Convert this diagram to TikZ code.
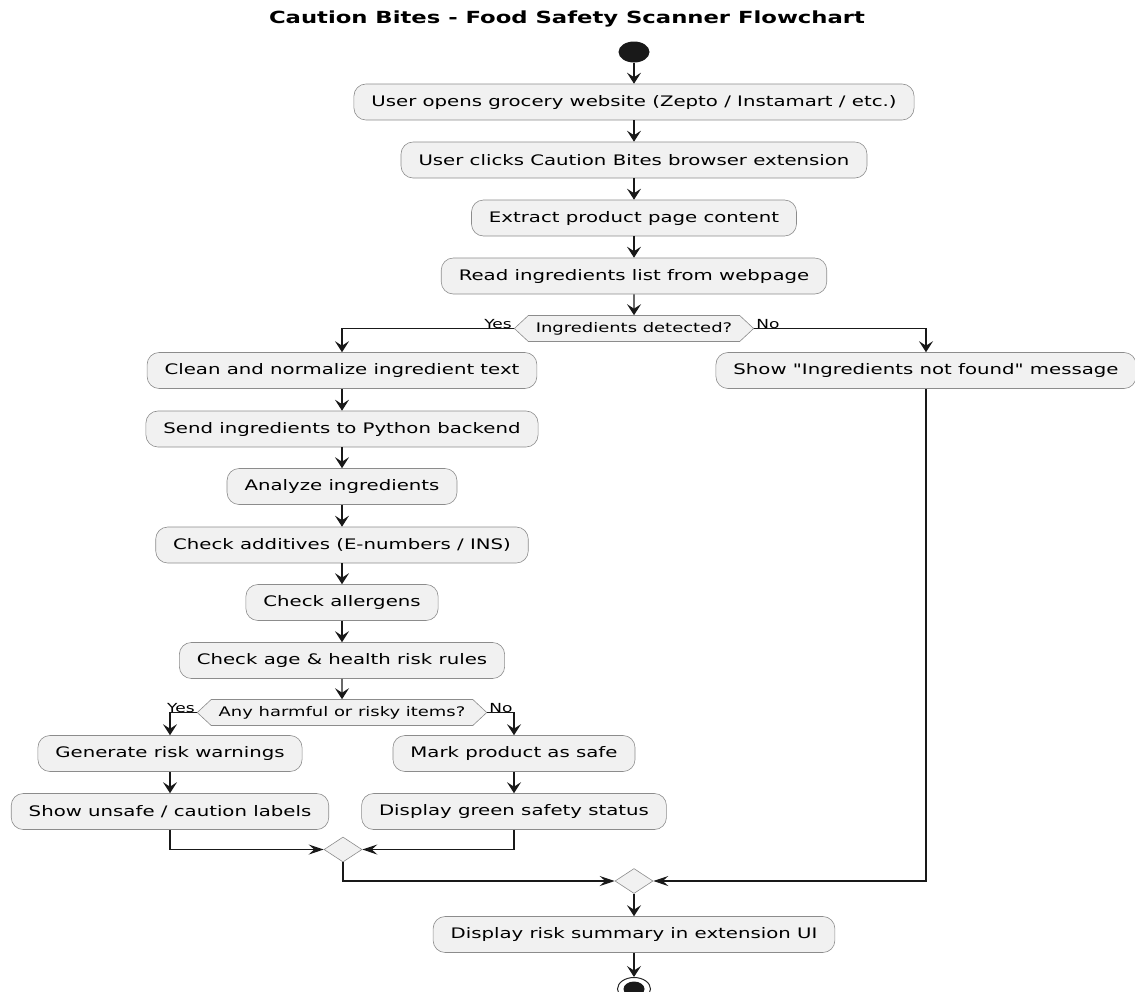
\documentclass[tikz,border=0pt]{standalone}
\usepackage{fontspec}
\setmainfont{DejaVu Sans}[FakeStretch=1.36, Ligatures=TeXOff]
\usetikzlibrary{arrows.meta,shapes.geometric,shapes.symbols}
\definecolor{actfill}{HTML}{F1F1F1}
\definecolor{actline}{HTML}{8C8C8C}
\tikzset{
  activity/.style={draw=actline, line width=0.6pt, fill=actfill, rounded corners=12pt,
    minimum height=36pt, inner xsep=17.5pt, inner ysep=0pt, font=\fontsize{14.5}{17}\selectfont},
  question/.style={shape=signal, signal to=west and east, signal pointer angle=86,
    draw=actline, line width=0.6pt, fill=actfill, minimum height=26pt, inner xsep=7.5pt,
    inner ysep=0pt, font=\fontsize{13.2}{15}\selectfont},
  merge/.style={shape=diamond, draw=actline, line width=0.6pt, fill=actfill,
    minimum width=38pt, minimum height=25pt, inner sep=0pt},
  guard/.style={font=\fontsize{12.5}{14}\selectfont, inner sep=1pt},
  vflow/.style={draw=black!90, line width=1.1pt, -{Stealth[length=11pt,width=14pt,inset=4.5pt]}},
  hflow/.style={draw=black!90, line width=1.1pt, -{Stealth[length=15pt,width=10pt,inset=5.5pt]}},
}
\begin{document}
\begin{tikzpicture}[x=1pt,y=-1pt]
  \useasboundingbox (0,0) rectangle (1135,991);
%%
  % Title
  \node[font=\bfseries\fontsize{16.7}{20}\selectfont] (title) at (567,19) {Caution Bites - Food Safety Scanner Flowchart};
  % Node: start
  \node[shape=ellipse, fill=black!90, minimum width=31pt, minimum height=21pt, inner sep=0pt] (start) at (634,52) {};
  % Node: main column
  \node[activity] (opensite) at (634,102) {User opens grocery website (Zepto / Instamart / etc.)};
  \node[activity] (clickext) at (634,160) {User clicks Caution Bites browser extension};
  \node[activity] (extract) at (634,218) {Extract product page content};
  \node[activity] (readlist) at (634,276) {Read ingredients list from webpage};
  \node[question] (detected) at (634,328.5) {Ingredients detected?};
  % Node: yes branch
  \node[activity] (clean) at (342,370.5) {Clean and normalize ingredient text};
  \node[activity] (sendpy) at (342,429) {Send ingredients to Python backend};
  \node[activity] (analyze) at (342,486.5) {Analyze ingredients};
  \node[activity] (additives) at (342,545) {Check additives (E-numbers / INS)};
  \node[activity] (allergens) at (342,602.5) {Check allergens};
  \node[activity] (agerules) at (342,660.5) {Check age \& health risk rules};
  \node[question] (harmful) at (342,712.5) {Any harmful or risky items?};
  \node[activity] (warnings) at (170,753.5) {Generate risk warnings};
  \node[activity] (unsafe) at (170,811.5) {Show unsafe / caution labels};
  \node[activity] (marksafe) at (514,753.5) {Mark product as safe};
  \node[activity] (greenok) at (514,811.5) {Display green safety status};
  \node[merge] (join1) at (343,849.5) {};
  % Node: no branch
  \node[activity] (notfound) at (926,370.5) {Show "Ingredients not found" message};
  \node[merge] (join2) at (634,881) {};
  \node[activity] (summary) at (634,934.5) {Display risk summary in extension UI};
  % Node: stop
  \node[shape=ellipse, draw=black!85, line width=1pt, minimum width=33pt, minimum height=23pt,
    inner sep=0pt, path picture={\fill[black!90] (path picture bounding box.center) ellipse (10.5pt and 7.5pt);}] (stop) at (634,989) {};
%
  % Edge: start -> ... -> detected
  \draw[vflow] (start) -- (opensite);
  \draw[vflow] (opensite) -- (clickext);
  \draw[vflow] (clickext) -- (extract);
  \draw[vflow] (extract) -- (readlist);
  \draw[vflow] (readlist) -- (detected);
  % Edge: detected -> clean (Yes), detected -> notfound (No)
  \draw[vflow] (detected.west) -| (clean.north);
  \node[guard, anchor=south east] (yes1) at ([xshift=-1pt,yshift=-1pt]detected.west) {Yes};
  \draw[vflow] (detected.east) -| (notfound.north);
  \node[guard, anchor=south west] (no1) at ([xshift=1pt,yshift=-1pt]detected.east) {No};
  % Edge: checks
  \draw[vflow] (clean) -- (sendpy);
  \draw[vflow] (sendpy) -- (analyze);
  \draw[vflow] (analyze) -- (additives);
  \draw[vflow] (additives) -- (allergens);
  \draw[vflow] (allergens) -- (agerules);
  \draw[vflow] (agerules) -- (harmful);
  % Edge: harmful -> warnings (Yes), harmful -> marksafe (No)
  \draw[vflow] (harmful.west) -| (warnings.north);
  \node[guard, anchor=south east] (yes2) at ([xshift=-1pt,yshift=-1pt]harmful.west) {Yes};
  \draw[vflow] (harmful.east) -| (marksafe.north);
  \node[guard, anchor=south west] (no2) at ([xshift=1pt,yshift=-1pt]harmful.east) {No};
  \draw[vflow] (warnings) -- (unsafe);
  \draw[vflow] (marksafe) -- (greenok);
  % Edge: merges
  \draw[hflow] (unsafe.south) |- (join1.west);
  \draw[hflow] (greenok.south) |- (join1.east);
  \draw[hflow] (join1.south) |- (join2.west);
  \draw[hflow] (notfound.south) |- (join2.east);
  \draw[vflow] (join2) -- (summary);
  \draw[vflow] (summary) -- (stop);
%
\end{tikzpicture}
\end{document}
